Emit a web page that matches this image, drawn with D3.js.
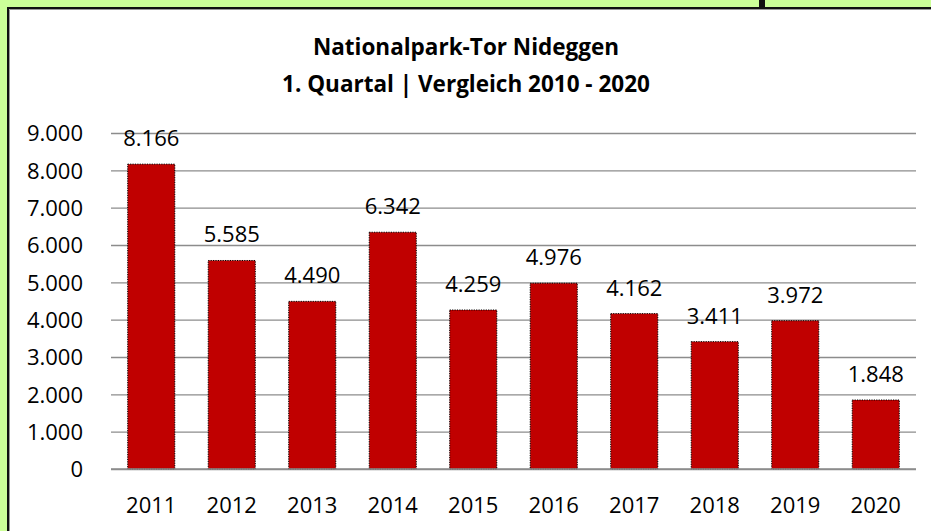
<!DOCTYPE html>
<html>
<head>
<meta charset="utf-8">
<script src="https://cdn.jsdelivr.net/npm/d3@7"></script>
<style>
  body { margin: 0; background: #ccff99; }
  svg { display: block; }
  text { font-family: "Open Sans", sans-serif; fill: #000; }
</style>
</head>
<body>
<svg width="931" height="531"></svg>
<script>
// data
var years = ["2011", "2012", "2013", "2014", "2015", "2016", "2017", "2018", "2019", "2020"];
var visitors = [8166, 5585, 4490, 6342, 4259, 4976, 4162, 3411, 3972, 1848];
var yTicks = [0, 1000, 2000, 3000, 4000, 5000, 6000, 7000, 8000, 9000];
var titleLines = ["Nationalpark-Tor Nideggen", "1. Quartal | Vergleich 2010 - 2020"];

var de = d3.formatLocale({decimal: ",", thousands: ".", grouping: [3], currency: ["", " €"]});
var fmt = de.format(",");

var svg = d3.select("svg"),
    margin = {top: 133, right: 15, bottom: 62, left: 111},
    width = +svg.attr("width") - margin.left - margin.right,
    height = +svg.attr("height") - margin.top - margin.bottom;

// frame: green page, white chart box with dark border
svg.append("rect")
    .attr("x", 0).attr("y", 0)
    .attr("width", 931).attr("height", 531)
    .attr("fill", "#ccff99");
svg.append("rect")
    .attr("x", 8).attr("y", 8)
    .attr("width", 940).attr("height", 540)
    .attr("fill", "#fff")
    .attr("stroke", "#111")
    .attr("stroke-width", 2);
svg.append("line")
    .attr("x1", 9.5).attr("x2", 931)
    .attr("y1", 9.5).attr("y2", 9.5)
    .attr("stroke", "#999").attr("stroke-width", 1);
svg.append("line")
    .attr("x1", 9.5).attr("x2", 9.5)
    .attr("y1", 9.5).attr("y2", 531)
    .attr("stroke", "#999").attr("stroke-width", 1);
// small black tab at the top
svg.append("rect")
    .attr("x", 759).attr("y", 0)
    .attr("width", 6).attr("height", 8)
    .attr("fill", "#111");

var title = svg.append("text")
    .attr("text-anchor", "middle")
    .style("font-weight", "bold")
    .style("font-size", "22.5px");
title.selectAll("tspan")
    .data(titleLines)
  .enter().append("tspan")
    .attr("x", 466)
    .attr("y", function(d, i) { return 55 + i * 37; })
    .text(function(d) { return d; });

var g = svg.append("g").attr("transform", "translate(" + margin.left + "," + margin.top + ")");

var x = d3.scaleBand()
    .domain(years)
    .range([0, width])
    .paddingInner(0.415)
    .paddingOuter(0.2075);

var y = d3.scaleLinear()
    .domain([0, 9000])
    .range([height, 0]);

// gridlines
g.append("g")
    .attr("class", "grid")
    .call(d3.axisLeft(y).tickValues(yTicks).tickSize(-width).tickFormat(""))
    .call(function(s) {
      s.select(".domain").remove();
      s.selectAll("line").attr("stroke", "#8c8c8c").attr("stroke-width", 1.3);
    });

// y axis labels
g.append("g")
    .attr("class", "axis axis--y")
    .attr("transform", "translate(-25,0)")
    .call(d3.axisLeft(y).tickValues(yTicks).tickSize(0).tickFormat(fmt))
    .call(function(s) {
      s.select(".domain").remove();
      s.selectAll("text").style("font-size", "22px").attr("dy", "0.36em");
    });

// bars
g.selectAll(".bar")
    .data(visitors)
  .enter().append("rect")
    .attr("class", "bar")
    .attr("x", function(d, i) { return x(years[i]); })
    .attr("y", function(d) { return y(d); })
    .attr("width", x.bandwidth())
    .attr("height", function(d) { return height - y(d); })
    .attr("fill", "#c00000")
    .attr("stroke", "#000")
    .attr("stroke-width", 1)
    .attr("stroke-dasharray", "1.2,1.2");

// baseline
g.append("line")
    .attr("x1", 0).attr("x2", width)
    .attr("y1", y(0)).attr("y2", y(0))
    .attr("stroke", "#8c8c8c").attr("stroke-width", 1.5);

// value labels
g.selectAll(".label")
    .data(visitors)
  .enter().append("text")
    .attr("class", "label")
    .attr("text-anchor", "middle")
    .attr("x", function(d, i) { return x(years[i]) + x.bandwidth() / 2; })
    .attr("y", function(d) { return y(d) - 18; })
    .style("font-size", "22px")
    .text(function(d) { return fmt(d); });

// x axis labels
g.append("g")
    .attr("class", "axis axis--x")
    .attr("transform", "translate(0," + height + ")")
    .call(d3.axisBottom(x).tickSize(0).tickPadding(0))
    .call(function(s) {
      s.select(".domain").remove();
      s.selectAll("text").style("font-size", "22px").attr("dy", null).attr("y", 44);
    });
</script>
</body>
</html>
